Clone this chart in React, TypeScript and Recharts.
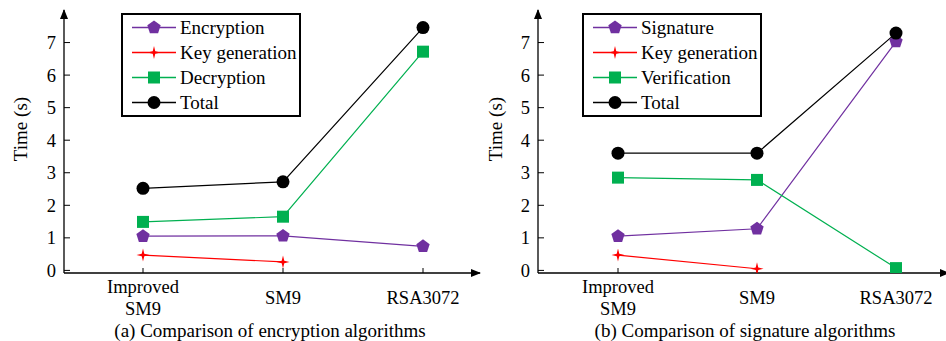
import React from 'react';
import { LineChart, Line, XAxis, YAxis, Legend } from 'recharts';

const FONT = '"Liberation Serif", "Times New Roman", serif';

const categories = ['Improved SM9', 'SM9', 'RSA3072'];
const yTicks = [0, 1, 2, 3, 4, 5, 6, 7];

// (a) encryption
const encryption = [1.05, 1.06, 0.74];
const keyGenEnc = [0.47, 0.26, null];
const decryption = [1.49, 1.65, 6.72];
const totalEnc = [2.52, 2.72, 7.46];

// (b) signature
const signature = [1.05, 1.28, 7.03];
const keyGenSig = [0.47, 0.05, null];
const verification = [2.85, 2.78, 0.07];
const totalSig = [3.6, 3.6, 7.29];

const PURPLE = '#7030a0';
const RED = '#ff0000';
const GREEN = '#00b050';
const BLACK = '#000000';

const encRows = categories.map((name, i) => ({
  name,
  a: encryption[i],
  b: keyGenEnc[i],
  c: decryption[i],
  d: totalEnc[i],
}));

const sigRows = categories.map((name, i) => ({
  name,
  a: signature[i],
  b: keyGenSig[i],
  c: verification[i],
  d: totalSig[i],
}));

type Shape = 'pentagon' | 'star' | 'square' | 'circle';

const Marker = ({ shape, cx, cy, color }: { shape: Shape; cx: number; cy: number; color: string }) => {
  if (shape === 'circle') return <circle cx={cx} cy={cy} r={6.5} fill={color} />;
  if (shape === 'square') return <rect x={cx - 6} y={cy - 6} width={12} height={12} fill={color} />;
  if (shape === 'pentagon') {
    const pts = [0, 1, 2, 3, 4]
      .map((i) => {
        const a = ((-90 + 72 * i) * Math.PI) / 180;
        return `${cx + 7 * Math.cos(a)},${cy + 7 * Math.sin(a)}`;
      })
      .join(' ');
    return <polygon points={pts} fill={color} />;
  }
  const pts = [0, 1, 2, 3, 4, 5, 6, 7]
    .map((i) => {
      const r = i % 2 === 0 ? 6.5 : 1.8;
      const a = ((-90 + 45 * i) * Math.PI) / 180;
      return `${cx + r * Math.cos(a)},${cy + r * Math.sin(a)}`;
    })
    .join(' ');
  return <polygon points={pts} fill={color} />;
};

const dotOf = (shape: Shape, color: string) => (props: any) => {
  const { cx, cy, value, index } = props;
  if (value == null || cy == null || isNaN(cy)) return <g key={`e-${index}`} />;
  return <Marker key={`m-${index}`} shape={shape} cx={cx} cy={cy} color={color} />;
};

const CategoryTick = (props: any) => {
  const { x, y, payload } = props;
  const words = String(payload.value).split(' ');
  const multi = words.length > 1;
  return (
    <text x={x} y={y} textAnchor="middle" fill="#000" fontSize={18.5} fontFamily={FONT}>
      {words.map((w, i) => (
        <tspan key={i} x={x} dy={i === 0 ? (multi ? 20 : 31) : 22}>
          {w}
        </tspan>
      ))}
    </text>
  );
};

type Item = { name: string; color: string; shape: Shape };

const LegendBox = ({ items }: { items: Item[] }) => (
  <div
    style={{
      border: '2px solid #000',
      background: '#fff',
      width: 176,
      height: 100,
      fontFamily: FONT,
      fontSize: 19,
      color: '#000',
      boxSizing: 'content-box',
    }}
  >
    {items.map((it) => (
      <div key={it.name} style={{ display: 'flex', alignItems: 'center', height: 25 }}>
        <svg width={57} height={25} style={{ flex: 'none' }}>
          <line x1={9} x2={53} y1={12.5} y2={12.5} stroke={it.color} strokeWidth={1.3} />
          <Marker shape={it.shape} cx={31} cy={12.5} color={it.color} />
        </svg>
        <span style={{ lineHeight: '25px', whiteSpace: 'nowrap', fontFamily: FONT, fontSize: 19 }}>{it.name}</span>
      </div>
    ))}
  </div>
);

const Panel = ({
  rows,
  names,
  left,
  width,
  marginLeft,
  marginRight,
  padLeft,
  padRight,
  legendLeft,
}: {
  rows: any[];
  names: string[];
  left: number;
  width: number;
  marginLeft: number;
  marginRight: number;
  padLeft: number;
  padRight: number;
  legendLeft: number;
}) => {
  const items: Item[] = [
    { name: names[0], color: PURPLE, shape: 'pentagon' },
    { name: names[1], color: RED, shape: 'star' },
    { name: names[2], color: GREEN, shape: 'square' },
    { name: names[3], color: BLACK, shape: 'circle' },
  ];
  const keys = ['a', 'b', 'c', 'd'];
  return (
    <div style={{ position: 'absolute', left, top: 0, width, height: 341 }}>
      <LineChart
        width={width}
        height={341}
        data={rows}
        margin={{ top: 10, right: marginRight, bottom: 67, left: marginLeft - 1 }}
      >
        <XAxis
          dataKey="name"
          type="category"
          height={1}
          interval={0}
          padding={{ left: padLeft, right: padRight }}
          tickSize={-5}
          tickMargin={5}
          tickLine={{ stroke: '#000', strokeWidth: 1 }}
          axisLine={{ stroke: '#000', strokeWidth: 1.3, markerEnd: 'url(#arrowHead)' }}
          tick={<CategoryTick />}
        />
        <YAxis
          type="number"
          width={1}
          domain={[-0.08, 8]}
          allowDataOverflow
          ticks={yTicks}
          interval={0}
          tickSize={-6}
          tickMargin={14}
          tickLine={{ stroke: '#000', strokeWidth: 1 }}
          axisLine={{ stroke: '#000', strokeWidth: 1.3, markerStart: 'url(#arrowHead)' }}
          tick={{ fill: '#000', fontSize: 18.5, fontFamily: FONT }}
        />
        <Legend
          layout="horizontal"
          verticalAlign="middle"
          align="center"
          wrapperStyle={{ position: 'absolute', left: legendLeft, top: 13, width: 180, height: 104 }}
          content={() => <LegendBox items={items} />}
        />
        {items.map((it, i) => (
          <Line
            key={it.name}
            dataKey={keys[i]}
            name={it.name}
            stroke={it.color}
            strokeWidth={1.2}
            type="linear"
            connectNulls={false}
            dot={dotOf(it.shape, it.color)}
            activeDot={false}
            isAnimationActive={false}
          />
        ))}
      </LineChart>
    </div>
  );
};

const App = () => (
  <div
    style={{
      position: 'absolute',
      left: 0,
      top: 0,
      width: 946,
      height: 341,
      overflow: 'hidden',
      background: '#fff',
      fontFamily: FONT,
    }}
  >
    <svg width={0} height={0} style={{ position: 'absolute' }}>
      <defs>
        <marker
          id="arrowHead"
          markerUnits="userSpaceOnUse"
          markerWidth={10}
          markerHeight={8}
          viewBox="0 0 10 8"
          refX={9}
          refY={4}
          orient="auto-start-reverse"
        >
          <path d="M0,0 L10,4 L0,8 z" fill="#000" />
        </marker>
      </defs>
    </svg>
    <Panel
      rows={encRows}
      names={['Encryption', 'Key generation', 'Decryption', 'Total']}
      left={0}
      width={484}
      marginLeft={64}
      marginRight={4}
      padLeft={79}
      padRight={57}
      legendLeft={121}
    />
    <Panel
      rows={sigRows}
      names={['Signature', 'Key generation', 'Verification', 'Total']}
      left={470}
      width={479}
      marginLeft={68}
      marginRight={0}
      padLeft={80}
      padRight={53}
      legendLeft={112}
    />
    {[
      { x: 21, text: 'Time (s)' },
      { x: 496, text: 'Time (s)' },
    ].map((t) => (
      <div
        key={t.x}
        style={{
          position: 'absolute',
          left: t.x - 50,
          top: 129 - 10,
          width: 100,
          height: 20,
          lineHeight: '20px',
          textAlign: 'center',
          fontSize: 19,
          transform: 'rotate(-90deg)',
        }}
      >
        {t.text}
      </div>
    ))}
    {[
      { x: 270, text: '(a) Comparison of encryption algorithms' },
      { x: 745, text: '(b) Comparison of signature algorithms' },
    ].map((c) => (
      <div
        key={c.x}
        style={{
          position: 'absolute',
          left: c.x - 220,
          top: 322,
          width: 440,
          height: 17,
          lineHeight: '17px',
          textAlign: 'center',
          fontSize: 19,
          whiteSpace: 'nowrap',
        }}
      >
        {c.text}
      </div>
    ))}
  </div>
);

export default App;
